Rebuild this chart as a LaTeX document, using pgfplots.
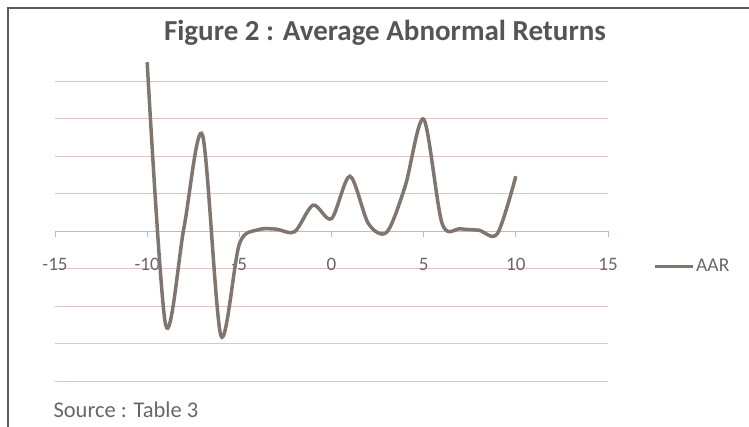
\documentclass[border=0pt]{standalone}
\usepackage{fontspec}
\setmainfont{Carlito}
\usepackage{pgfplots}
\pgfplotsset{compat=1.18}
\definecolor{linec}{RGB}{128,118,112}
\definecolor{gridc}{RGB}{222,196,196}
\definecolor{textc}{RGB}{105,103,102}
\definecolor{framec}{RGB}{95,90,88}
\begin{document}
\begin{tikzpicture}[x=1pt,y=1pt]
\useasboundingbox (0,0) rectangle (749,427);
\draw[line width=2.2pt, framec] (8,0) -- (8,419) -- (749,419);
\node[font=\bfseries\fontsize{29}{33}\selectfont, text={rgb,255:red,85;green,85;blue,85}] at (385,394) {Figure 2 : Average Abnormal Returns};
\node[anchor=west, font=\fontsize{22.5}{26}\selectfont, text=textc] at (50,17) {Source : Table 3};
\begin{axis}[at={(55pt,46pt)}, anchor=south west, scale only axis,
  width=553pt, height=300pt,
  xmin=-15, xmax=15, ymin=-4, ymax=4,
  axis x line=middle, axis y line=left,
  hide obscured x ticks=false,
  x axis line style={-, draw=gridc!80!gray, line width=0.8pt},
  y axis line style={draw=none},
  ytick={-4,...,4}, yticklabels={}, ytick style={draw=none},
  ymajorgrids, grid style={gridc, line width=0.9pt},
  xtick={-15,-10,-5,0,5,10,15},
  xticklabels={-15,-10,-5,0,5,10,15},
  tick align=outside, major tick length=6pt,
  xtick style={draw=gridc!80!gray, line width=0.8pt},
  xticklabel style={font=\fontsize{19}{22}\selectfont, text=textc, yshift=-18pt},
  clip=false,
  legend style={at={(1,0.383)}, anchor=west, xshift=45pt, draw=none, fill=none,
    font=\fontsize{19.5}{22}\selectfont, text=textc, inner sep=0pt},
  legend image code/.code={\draw[#1, line width=3pt] (0pt,0pt) -- (38pt,0pt);},
]
\addplot[linec, line width=3.5pt, smooth] coordinates {
(-10,4.5) (-9,-2.5) (-8,0.1) (-7,2.56) (-6,-2.79) (-5,-0.35) (-4,0.03)
(-3,0.05) (-2,-0.02) (-1,0.69) (0,0.33) (1,1.46) (2,0.2) (3,-0.03)
(4,1.2) (5,2.98) (6,0.2) (7,0.06) (8,0.02) (9,-0.07) (10,1.46)
};
\addlegendentry{AAR}
\end{axis}
\end{tikzpicture}
\end{document}
